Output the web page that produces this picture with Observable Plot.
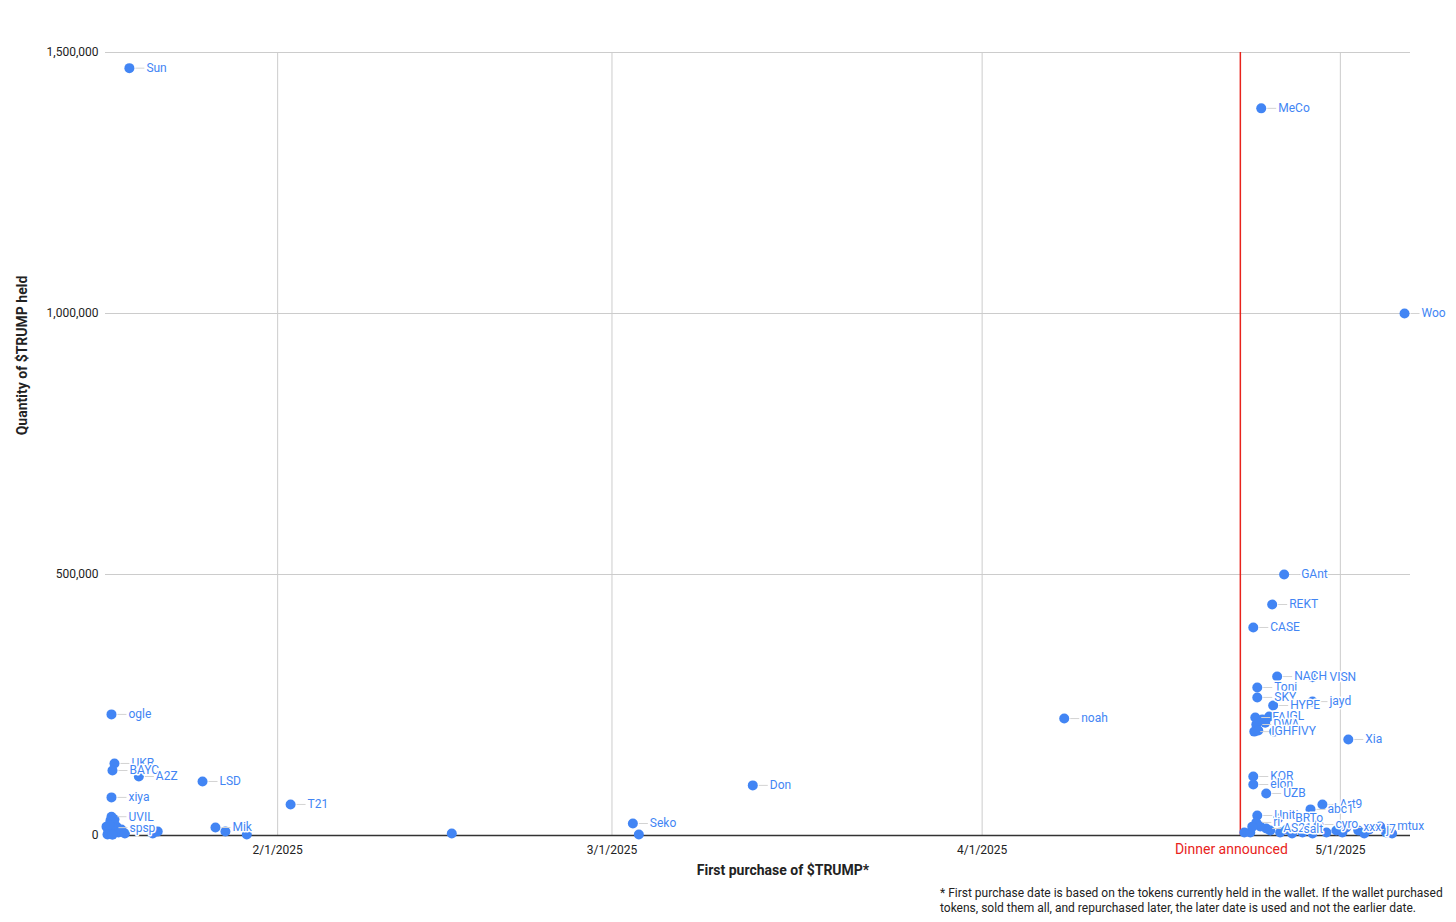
<!DOCTYPE html>
<html>
<head>
<meta charset="utf-8">
<script src="https://cdn.jsdelivr.net/npm/d3@7"></script>
<script src="https://cdn.jsdelivr.net/npm/@observablehq/plot@0.6"></script>
<style>
  body { margin: 0; background: #fff; font-family: Roboto, sans-serif; }
  #wrap { position: relative; width: 1456px; height: 922px; }
  #note { position: absolute; left: 940px; top: 886px; font-size: 12px; line-height: 15px; color: #222; width: 520px; }
</style>
</head>
<body>
<div id="wrap">
  <div id="chart"></div>
  <div id="note">* First purchase date is based on the tokens currently held in the wallet. If the wallet purchased tokens, sold them all, and repurchased later, the later date is used and not the earlier date.</div>
</div>
<script>
// ---- Data ----
const names = [
  "Sun","ogle","UKR","BAYC","A2Z","LSD","xiya","UVIL","spsp","T21","Mik","","","","",
  "","","","","","","","","","","","","",
  "Seko","","Don","noah",
  "MeCo","Woo","GAnt","REKT","CASE","NACH","VISN","Toni","SKY","HYPE","jayd",
  "FAN","IGL","DWA","IGH","FIVY","","","",
  "KOR","elon","UZB","Art9","abc1","Xia",
  "","Uniti","BRTo","ri","AS21","salt","cyro","xxx","j7","mtux",
  "","","","","","","","","","","","","","",""
];
const dates = [
  "2025-01-19 14:00","2025-01-18 02:00","2025-01-18 08:00","2025-01-18 04:00","2025-01-20 09:00","2025-01-25 17:00","2025-01-18 02:00","2025-01-18 02:00","2025-01-18 04:00","2025-02-02 02:00","2025-01-26 19:00","2025-01-27 15:00","2025-01-29 10:00","2025-01-21 23:00","2025-02-15 14:00",
  "2025-01-17 16:00","2025-01-17 20:00","2025-01-18 00:00","2025-01-18 06:00","2025-01-18 12:00","2025-01-18 16:00","2025-01-18 22:00","2025-01-19 05:00","2025-01-17 18:00","2025-01-18 04:00","2025-01-18 08:00","2025-01-17 22:00","2025-01-21 13:00",
  "2025-03-02 18:00","2025-03-03 06:00","2025-03-12 19:00","2025-04-07 21:00",
  "2025-04-24 09:00","2025-05-06 09:00","2025-04-26 07:00","2025-04-25 07:00","2025-04-23 17:00","2025-04-25 17:00","2025-04-28 16:00","2025-04-24 01:00","2025-04-24 01:00","2025-04-25 09:00","2025-04-28 16:00",
  "2025-04-23 21:00","2025-04-25 01:00","2025-04-23 23:00","2025-04-23 19:00","2025-04-25 11:00","2025-04-24 11:00","2025-04-24 03:00","2025-04-24 17:00",
  "2025-04-23 17:00","2025-04-23 17:00","2025-04-24 19:00","2025-04-29 12:00","2025-04-28 12:00","2025-05-01 16:00",
  "2025-04-22 23:00","2025-04-24 01:00","2025-04-25 19:00","2025-04-23 23:00","2025-04-24 19:00","2025-04-26 12:00","2025-04-29 04:00","2025-05-01 12:00","2025-05-03 10:00","2025-05-04 08:00",
  "2025-04-23 11:00","2025-04-24 07:00","2025-04-23 15:00","2025-04-25 03:00","2025-04-25 23:00","2025-04-26 23:00","2025-04-27 20:00","2025-04-28 16:00","2025-04-29 20:00","2025-04-30 16:00","2025-05-01 04:00","2025-05-02 12:00","2025-05-03 00:00","2025-05-04 20:00","2025-05-05 08:00"
];
const quantities = [
  1470000,232000,138000,124500,113000,103500,73000,36000,15000,59500,15300,7700,2000,7700,3800,
  17000,7700,28700,11500,17200,5700,11500,3800,1900,1500,30600,21000,3800,
  23000,2000,96000,224000,
  1393000,1000000,500000,442500,398500,304500,303000,283500,264500,249000,256500,
  226000,228000,212600,199000,199000,222000,201000,216000,
  113000,97700,80500,59500,50000,184000,
  5700,38300,32600,25000,13400,11500,21000,15300,11500,17200,
  5700,17200,17000,9600,5700,3800,5700,3800,5700,9600,5700,9600,3800,5700,3800
];
const xTicks = ["2025-02-01","2025-03-01","2025-04-01","2025-05-01"];
const yTicks = [0, 500000, 1000000, 1500000];
const xDomain = ["2025-01-17 14:00", "2025-05-06 21:00"];
const dinnerDate = "2025-04-22 15:00";
const dinnerLabel = "Dinner announced";
const xTitle = "First purchase of $TRUMP*";
const yTitle = "Quantity of $TRUMP held";

// ---- Build ----
const parseDT = d3.utcParse("%Y-%m-%d %H:%M");
const parseD = d3.utcParse("%Y-%m-%d");
const data = names.map((n, i) => ({name: n, date: parseDT(dates[i]), qty: quantities[i]}));
const labelled = data.filter(d => d.name);
const xTickDates = xTicks.map(parseD);
const dinner = parseDT(dinnerDate);

const BLUE = "#4285F4";
const RED = "#e8231c";

// short horizontal connector drawn beside each point
const connector = {
  draw(context) {
    context.moveTo(6, 0);
    context.lineTo(15, 0);
  }
};

const chart = Plot.plot({
  width: 1456,
  height: 880,
  marginLeft: 105,
  marginRight: 46,
  marginTop: 52,
  marginBottom: 45,
  style: {fontFamily: "Roboto, sans-serif", fontSize: "12px", color: "#222", background: "#fff"},
  x: {type: "utc", domain: xDomain.map(parseDT)},
  y: {domain: [yTicks[0], yTicks[yTicks.length - 1]]},
  marks: [
    Plot.gridY(yTicks, {stroke: "#ccc", strokeOpacity: 1}),
    Plot.gridX(xTickDates, {stroke: "#ccc", strokeOpacity: 1}),
    Plot.axisY(yTicks, {tickSize: 0, tickPadding: 7, tickFormat: d3.format(","), label: null, fontSize: 12}),
    Plot.axisX(xTickDates, {tickSize: 0, tickPadding: 10, tickFormat: d3.utcFormat("%-m/%-d/%Y"), label: null, fontSize: 12}),
    Plot.ruleY([0], {stroke: "#333", strokeWidth: 1.5}),
    Plot.ruleX([dinner], {stroke: RED, strokeWidth: 1.5}),
    Plot.dot(data, {x: "date", y: "qty", r: 5, fill: BLUE}),
    Plot.dot(labelled, {x: "date", y: "qty", r: 5, symbol: connector, fill: "none", stroke: "#d3d3d3", strokeWidth: 1}),
    Plot.text(labelled, {x: "date", y: "qty", text: "name", textAnchor: "start", dx: 17, fill: BLUE, stroke: "white", strokeWidth: 3, fontSize: 12}),
    Plot.text([dinnerLabel], {x: () => dinner, text: d => d, frameAnchor: "bottom", lineAnchor: "middle", dx: -9, dy: 14, fill: RED, fontSize: 14}),
    Plot.text([xTitle], {text: d => d, frameAnchor: "bottom", lineAnchor: "middle", textAnchor: "middle", dx: 25, dy: 35, fontSize: 14, fontWeight: "bold", fill: "#222"}),
    Plot.text([yTitle], {text: d => d, frameAnchor: "top-left", textAnchor: "middle", lineAnchor: "middle", dx: -83, dy: 303, rotate: -90, fontSize: 14, fontWeight: "bold", fill: "#222"})
  ]
});
document.getElementById("chart").appendChild(chart);
</script>
</body>
</html>
